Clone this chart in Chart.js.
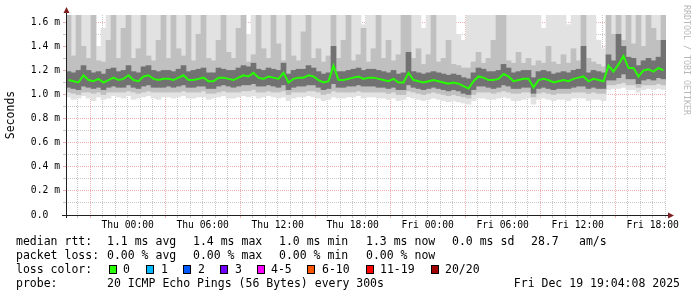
<!DOCTYPE html>
<html>
<head>
<meta charset="utf-8">
<script src="https://cdn.jsdelivr.net/npm/chart.js@4.4.0/dist/chart.umd.min.js"></script>
<style>
  body { margin: 0; background: #fff; }
  #wrap { position: relative; width: 697px; height: 297px; font-family: 'DejaVu Sans Mono', monospace; font-size: 11.5px; color: #000; }
  #chart { position: absolute; left: 0; top: 0; }
  .t { position: absolute; white-space: pre; line-height: 14px; }
  .box { position: absolute; top: 265px; width: 6px; height: 7px; border: 1px solid #000; }
  #credit { position: absolute; left: 682px; top: 5px; writing-mode: vertical-rl; font-size: 8.3px; line-height: 10px; color: #b8b8b8; white-space: pre; }
</style>
</head>
<body>
<div id="wrap">
  <canvas id="chart" width="697" height="297"></canvas>
  <div id="credit">RRDTOOL / TOBI OETIKER</div>

  <div class="t" style="left:16px;top:234px">median rtt:</div>
  <div class="t" style="left:107px;top:234px">1.1 ms avg</div>
  <div class="t" style="left:193px;top:234px">1.4 ms max</div>
  <div class="t" style="left:279px;top:234px">1.0 ms min</div>
  <div class="t" style="left:366px;top:234px">1.3 ms now</div>
  <div class="t" style="left:452px;top:234px">0.0 ms sd</div>
  <div class="t" style="left:531px;top:234px">28.7</div>
  <div class="t" style="left:579px;top:234px">am/s</div>

  <div class="t" style="left:16px;top:248px">packet loss:</div>
  <div class="t" style="left:107px;top:248px">0.00 % avg</div>
  <div class="t" style="left:193px;top:248px">0.00 % max</div>
  <div class="t" style="left:279px;top:248px">0.00 % min</div>
  <div class="t" style="left:366px;top:248px">0.00 % now</div>

  <div class="t" style="left:16px;top:262px">loss color:</div>
  <div class="box" style="left:109px;background:#26ff00"></div><div class="t" style="left:123px;top:262px">0</div>
  <div class="box" style="left:146px;background:#00b8ff"></div><div class="t" style="left:161px;top:262px">1</div>
  <div class="box" style="left:183px;background:#0059ff"></div><div class="t" style="left:198px;top:262px">2</div>
  <div class="box" style="left:220px;background:#7000ff"></div><div class="t" style="left:235px;top:262px">3</div>
  <div class="box" style="left:257px;background:#ff00ff"></div><div class="t" style="left:271px;top:262px">4-5</div>
  <div class="box" style="left:307px;background:#ff5500"></div><div class="t" style="left:322px;top:262px">6-10</div>
  <div class="box" style="left:366px;background:#ff0000"></div><div class="t" style="left:380px;top:262px">11-19</div>
  <div class="box" style="left:431px;background:#a10000"></div><div class="t" style="left:445px;top:262px">20/20</div>

  <div class="t" style="left:16px;top:276px">probe:</div>
  <div class="t" style="left:107px;top:276px">20 ICMP Echo Pings (56 Bytes) every 300s</div>
  <div class="t" style="right:17px;top:276px">Fri Dec 19 19:04:08 2025</div>
</div>

<script>
// 48 hours, starting Wed 19:04:08, one column every 24 minutes
const hoursPerColumn = 0.4;
const firstFullHour = 0.931; // 20:00 after the 19:04:08 start

const xTickLabels = ['Thu 00:00', 'Thu 06:00', 'Thu 12:00', 'Thu 18:00',
                     'Fri 00:00', 'Fri 06:00', 'Fri 12:00', 'Fri 18:00'];
const yTickLabels = ['0.0  ', '0.2 m', '0.4 m', '0.6 m', '0.8 m',
                     '1.0 m', '1.2 m', '1.4 m', '1.6 m'];

// median rtt (ms)
const median = [
  1.12,1.11,1.10,1.16,1.12,1.11,1.13,1.10,1.12,1.14,
  1.12,1.13,1.16,1.12,1.11,1.15,1.16,1.13,1.12,1.13,
  1.13,1.12,1.14,1.16,1.12,1.12,1.13,1.14,1.11,1.11,
  1.14,1.14,1.13,1.12,1.14,1.16,1.15,1.18,1.14,1.13,
  1.15,1.14,1.13,1.18,1.10,1.13,1.14,1.14,1.16,1.15,
  1.12,1.10,1.11,1.24,1.12,1.12,1.13,1.14,1.15,1.13,
  1.14,1.14,1.13,1.12,1.11,1.13,1.10,1.10,1.18,1.12,
  1.11,1.10,1.11,1.12,1.11,1.10,1.09,1.10,1.09,1.07,
  1.05,1.11,1.15,1.14,1.12,1.12,1.13,1.17,1.15,1.11,
  1.12,1.13,1.13,1.06,1.12,1.13,1.12,1.10,1.11,1.12,
  1.11,1.13,1.14,1.15,1.11,1.13,1.12,1.11,1.24,1.19,
  1.25,1.32,1.22,1.22,1.15,1.20,1.21,1.19,1.22,1.20
];

// dark smoke close to the median
const innerLow = [
  1.06,1.05,1.04,1.07,1.06,1.05,1.06,1.04,1.06,1.07,
  1.06,1.06,1.08,1.06,1.05,1.07,1.08,1.06,1.06,1.06,
  1.07,1.06,1.07,1.08,1.06,1.06,1.07,1.07,1.05,1.05,
  1.07,1.08,1.07,1.06,1.07,1.08,1.08,1.09,1.07,1.07,
  1.08,1.07,1.06,1.08,1.04,1.06,1.07,1.07,1.08,1.08,
  1.06,1.04,1.05,1.09,1.06,1.06,1.07,1.07,1.08,1.07,
  1.07,1.07,1.06,1.06,1.05,1.06,1.04,1.04,1.08,1.06,
  1.05,1.04,1.05,1.06,1.05,1.04,1.03,1.04,1.03,1.01,
  1.00,1.04,1.07,1.07,1.06,1.05,1.06,1.08,1.07,1.05,
  1.05,1.06,1.06,1.01,1.05,1.06,1.05,1.04,1.05,1.05,
  1.05,1.06,1.07,1.07,1.05,1.06,1.05,1.05,1.12,1.12,
  1.14,1.17,1.13,1.13,1.09,1.12,1.13,1.12,1.14,1.13
];
const innerHigh = [
  1.19,1.18,1.20,1.24,1.20,1.18,1.19,1.17,1.21,1.22,
  1.19,1.20,1.24,1.19,1.18,1.23,1.24,1.20,1.19,1.20,
  1.20,1.19,1.21,1.24,1.19,1.20,1.21,1.22,1.18,1.18,
  1.22,1.21,1.20,1.20,1.22,1.24,1.23,1.26,1.21,1.20,
  1.22,1.21,1.20,1.26,1.17,1.20,1.21,1.21,1.24,1.22,
  1.19,1.17,1.18,1.40,1.19,1.19,1.20,1.21,1.22,1.20,
  1.21,1.21,1.20,1.19,1.18,1.20,1.17,1.18,1.35,1.19,
  1.18,1.17,1.18,1.19,1.18,1.17,1.16,1.17,1.16,1.14,
  1.13,1.18,1.22,1.21,1.19,1.19,1.20,1.25,1.22,1.18,
  1.19,1.20,1.20,1.14,1.19,1.20,1.19,1.17,1.18,1.19,
  1.18,1.20,1.21,1.40,1.18,1.20,1.19,1.18,1.33,1.28,
  1.50,1.40,1.31,1.30,1.24,1.28,1.30,1.28,1.31,1.45
];

// middle grey smoke
const midLow = [
  1.02,1.01,1.00,1.02,1.02,1.01,1.02,1.00,1.02,1.02,
  1.02,1.02,1.03,1.02,1.01,1.02,1.03,1.02,1.02,1.02,
  1.02,1.02,1.02,1.03,1.02,1.02,1.02,1.03,1.01,1.01,
  1.02,1.03,1.02,1.02,1.02,1.03,1.03,1.04,1.02,1.02,
  1.03,1.02,1.02,1.03,1.00,1.02,1.02,1.02,1.03,1.03,
  1.02,1.00,1.01,1.03,1.02,1.02,1.02,1.02,1.03,1.02,
  1.02,1.02,1.02,1.02,1.01,1.02,1.00,1.00,1.03,1.02,
  1.01,1.00,1.01,1.02,1.01,1.00,0.99,1.00,0.99,0.98,
  0.97,1.00,1.02,1.02,1.02,1.01,1.02,1.03,1.02,1.01,
  1.01,1.02,1.02,0.98,1.01,1.02,1.01,1.00,1.01,1.01,
  1.01,1.02,1.02,1.02,1.01,1.02,1.01,1.01,1.08,1.08,
  1.09,1.10,1.08,1.08,1.06,1.08,1.08,1.08,1.09,1.08
];
const midHigh = [
  1.66,1.32,1.66,1.40,1.30,1.66,1.28,1.27,1.45,1.66,
  1.30,1.55,1.66,1.30,1.38,1.66,1.32,1.28,1.45,1.66,
  1.30,1.66,1.38,1.32,1.66,1.28,1.50,1.66,1.30,1.28,
  1.45,1.66,1.35,1.30,1.55,1.66,1.27,1.33,1.66,1.38,
  1.30,1.66,1.42,1.28,1.66,1.32,1.28,1.52,1.66,1.30,
  1.38,1.27,1.32,1.66,1.30,1.45,1.66,1.28,1.33,1.55,
  1.27,1.38,1.66,1.30,1.45,1.28,1.33,1.66,1.66,1.30,
  1.38,1.25,1.33,1.66,1.27,1.30,1.45,1.25,1.24,1.22,
  1.22,1.27,1.35,1.26,1.30,1.45,1.66,1.66,1.28,1.26,
  1.35,1.26,1.30,1.24,1.28,1.26,1.40,1.27,1.25,1.33,
  1.26,1.38,1.28,1.66,1.30,1.27,1.25,1.23,1.66,1.50,
  1.66,1.45,1.66,1.42,1.66,1.40,1.66,1.55,1.45,1.66
];

// light outer smoke (min .. max ping)
const outerLow = [
  0.98,0.96,0.97,0.99,0.97,0.95,0.98,0.96,0.97,0.99,
  0.98,0.97,0.99,0.96,0.97,0.98,0.99,0.97,0.96,0.98,
  0.98,0.97,0.98,0.99,0.97,0.97,0.98,0.98,0.96,0.97,
  0.98,0.99,0.97,0.97,0.98,0.99,0.98,0.99,0.97,0.98,
  0.99,0.98,0.97,0.98,0.95,0.97,0.98,0.98,0.99,0.98,
  0.97,0.95,0.96,0.98,0.97,0.97,0.98,0.98,0.99,0.97,
  0.98,0.98,0.97,0.97,0.96,0.97,0.95,0.96,0.98,0.97,
  0.96,0.95,0.96,0.97,0.96,0.95,0.94,0.95,0.94,0.93,
  0.92,0.95,0.97,0.97,0.96,0.96,0.97,0.98,0.97,0.95,
  0.95,0.96,0.97,0.92,0.96,0.97,0.96,0.95,0.96,0.96,
  0.95,0.97,0.97,0.97,0.95,0.96,0.96,0.95,1.04,1.05,
  1.05,1.06,1.04,1.04,1.02,1.04,1.05,1.04,1.05,1.04
];
const outerHigh = [
  1.66,1.66,1.58,1.66,1.66,1.66,1.40,1.55,1.66,1.66,
  1.66,1.66,1.66,1.66,1.66,1.66,1.66,1.66,1.66,1.66,
  1.66,1.66,1.66,1.66,1.66,1.66,1.66,1.66,1.66,1.66,
  1.66,1.66,1.66,1.66,1.66,1.66,1.50,1.66,1.66,1.66,
  1.66,1.66,1.66,1.66,1.66,1.66,1.66,1.66,1.66,1.66,
  1.66,1.66,1.66,1.66,1.66,1.66,1.66,1.66,1.66,1.58,
  1.66,1.66,1.66,1.66,1.66,1.66,1.66,1.66,1.66,1.66,
  1.66,1.55,1.66,1.66,1.66,1.66,1.66,1.66,1.50,1.45,
  1.66,1.66,1.66,1.66,1.66,1.66,1.66,1.66,1.66,1.66,
  1.66,1.66,1.66,1.66,1.66,1.55,1.66,1.66,1.66,1.66,
  1.58,1.66,1.66,1.52,1.66,1.66,1.45,1.38,1.66,1.66,
  1.66,1.66,1.66,1.66,1.66,1.66,1.66,1.66,1.66,1.66
];

const GRID = 'rgba(143,143,143,0.5)';
const MGRID = 'rgba(222,79,79,0.45)';
const monoFont = 'DejaVu Sans Mono';

const times = median.map((_, i) => (i + 0.5) * hoursPerColumn);
const band = (lo, hi) => lo.map((v, i) => ({ x: times[i], y: [v, hi[i]] }));

const barStyle = { type: 'bar', barThickness: 5, grouped: false, borderWidth: 0 };

// axis lines and the little dark red arrows rrdtool draws
const rrdAxes = {
  id: 'rrdAxes',
  afterDraw(chart) {
    const { ctx, chartArea: a } = chart;
    const y0 = a.bottom + 0.5, x0 = a.left + 0.5;
    ctx.save();
    ctx.strokeStyle = 'rgb(31,31,31)';
    ctx.lineWidth = 1;
    ctx.beginPath();
    ctx.moveTo(a.left - 4, y0); ctx.lineTo(a.right + 3, y0);
    ctx.moveTo(x0, a.bottom + 3); ctx.lineTo(x0, a.top - 2);
    ctx.stroke();
    ctx.fillStyle = 'rgb(128,31,31)';
    ctx.beginPath();
    ctx.moveTo(a.right + 2, y0 - 3); ctx.lineTo(a.right + 8, y0); ctx.lineTo(a.right + 2, y0 + 3);
    ctx.closePath(); ctx.fill();
    ctx.beginPath();
    ctx.moveTo(x0 - 3, a.top - 2); ctx.lineTo(x0, a.top - 8); ctx.lineTo(x0 + 3, a.top - 2);
    ctx.closePath(); ctx.fill();
    ctx.restore();
  }
};

new Chart(document.getElementById('chart'), {
  type: 'bar',
  data: {
    datasets: [
      { type: 'line', data: median.map((v, i) => ({ x: times[i], y: v })),
        borderColor: '#26ff00', borderWidth: 2, pointRadius: 0, tension: 0, order: 0 },
      { ...barStyle, data: band(innerLow, innerHigh), backgroundColor: '#727272', order: 1 },
      { ...barStyle, data: band(midLow, midHigh), backgroundColor: '#c0c0c0', order: 2 },
      { ...barStyle, data: band(outerLow, outerHigh), backgroundColor: '#e2e2e2', order: 3 }
    ]
  },
  options: {
    responsive: false,
    animation: false,
    devicePixelRatio: 1,
    layout: { padding: { left: 0, right: 31, top: 15, bottom: 0 } },
    plugins: { legend: { display: false }, tooltip: { enabled: false } },
    scales: {
      x: {
        type: 'linear', min: 0, max: 48, offset: false, z: 1,
        grid: { offset: false, tickLength: 3,
                color: c => ((20 + c.index) % 24) % 6 === 3 ? MGRID : GRID },
        border: { display: false, dash: [1, 1] },
        afterBuildTicks: s => {
          const t = [];
          for (let k = 0; k < 48; k++) t.push({ value: firstFullHour + k });
          s.ticks = t;
        },
        afterFit: s => { s.height = 82; },
        ticks: {
          autoSkip: false, maxRotation: 0, padding: 2, color: '#000',
          font: { family: monoFont, size: 9.7 },
          callback: (v, i) => (i >= 4 && (i - 4) % 6 === 0) ? xTickLabels[(i - 4) / 6] : ''
        }
      },
      y: {
        min: 0, max: 1.66, z: 1,
        grid: { tickLength: 3, color: c => c.index % 2 === 0 ? MGRID : GRID },
        border: { display: false, dash: [1, 1] },
        afterBuildTicks: s => {
          const t = [];
          for (let k = 0; k <= 16; k++) t.push({ value: k / 10 });
          s.ticks = t;
        },
        afterFit: s => { s.width = 66; },
        title: { display: true, text: 'Seconds', color: '#000',
                 font: { family: monoFont, size: 11.5 }, padding: { top: 4, bottom: 0 } },
        ticks: {
          autoSkip: false, padding: 3, color: '#000',
          font: { family: monoFont, size: 9.7 },
          callback: (v, i) => i % 2 === 0 ? yTickLabels[i / 2] : ''
        }
      }
    }
  },
  plugins: [rrdAxes]
});
</script>
</body>
</html>
